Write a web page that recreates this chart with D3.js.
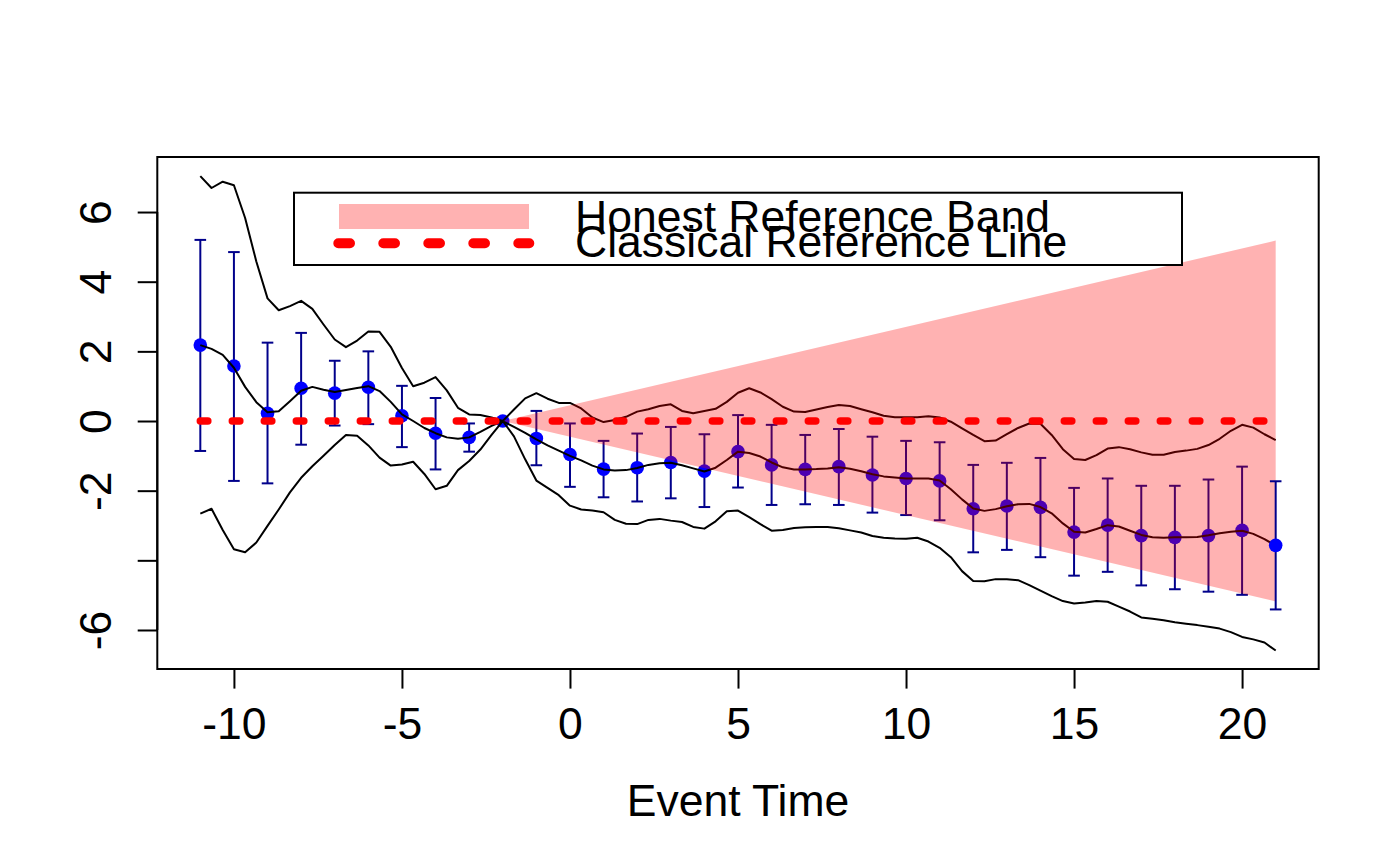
<!DOCTYPE html>
<html><head><meta charset="utf-8">
<script src="https://cdn.jsdelivr.net/npm/d3@7"></script>
<style>
html,body{margin:0;padding:0;background:#fff;}
svg{display:block;}
text{font-family:"Liberation Sans",Arial,Helvetica,sans-serif;}
</style>
</head><body>
<svg id="chart" width="1400" height="866"></svg>
<script>
// ---------------- data ----------------
const eventTime = [-11,-10,-9,-8,-7,-6,-5,-4,-3,-2,-1,0,1,2,3,4,5,6,7,8,9,10,11,12,13,14,15,16,17,18,19,20,21];
const estimate = [2.18,1.58,0.22,0.94,0.80,0.97,0.15,-0.35,-0.47,0,-0.50,-0.96,-1.38,-1.34,-1.19,-1.44,-0.88,-1.26,-1.39,-1.31,-1.55,-1.65,-1.72,-2.52,-2.44,-2.48,-3.19,-2.99,-3.29,-3.34,-3.29,-3.14,-3.57];
const ciUpper = [5.20,4.85,2.25,2.53,1.73,2.00,1.01,0.66,-0.07,0,0.29,-0.07,-0.57,-0.36,-0.17,-0.38,0.17,-0.11,-0.40,-0.23,-0.45,-0.57,-0.61,-1.26,-1.20,-1.06,-1.92,-1.65,-1.86,-1.86,-1.68,-1.31,-1.73];
const ciLower = [-0.86,-1.72,-1.79,-0.68,-0.13,-0.09,-0.75,-1.39,-0.88,0,-1.27,-1.89,-2.19,-2.31,-2.22,-2.47,-1.91,-2.41,-2.39,-2.41,-2.63,-2.70,-2.85,-3.77,-3.70,-3.91,-4.44,-4.33,-4.72,-4.83,-4.90,-4.99,-5.41];

// fine time grid (every 1/3 of a period) for the three curves
const lineTime = d3.range(97).map(i => -11 + i / 3);
const upperCurve = [7.03,6.69,6.87,6.77,5.83,4.58,3.52,3.18,3.30,3.45,3.22,2.77,2.34,2.12,2.31,2.57,2.56,2.13,1.52,1.00,1.10,1.26,0.88,0.38,0.19,0.17,0.10,0,
  0.33,0.65,0.80,0.64,0.52,0.52,0.36,0.10,
  -0.03,0.03,0.12,0.27,0.34,0.43,0.48,0.29,0.22,0.29,0.35,0.55,0.81,0.94,0.82,0.63,0.41,0.27,0.26,0.33,0.40,0.46,0.43,0.34,0.25,0.15,0.11,0.11,0.11,0.14,
  0.10,-0.02,-0.21,-0.40,-0.58,-0.56,-0.38,-0.20,-0.07,-0.08,-0.40,-0.81,-1.09,-1.12,-0.98,-0.79,-0.75,-0.81,-0.90,-0.97,-0.97,-0.89,-0.85,-0.80,-0.69,-0.51,-0.28,-0.11,-0.19,-0.38,-0.55];
const middleCurve = [2.18,2.07,1.90,1.53,0.98,0.54,0.25,0.28,0.57,0.87,0.98,0.90,0.83,0.89,0.95,1.00,0.86,0.55,0.19,0.00,-0.20,-0.35,-0.47,-0.51,-0.47,-0.31,-0.14,0,
  -0.17,-0.34,-0.53,-0.70,-0.85,-1.00,-1.13,-1.28,
  -1.39,-1.42,-1.41,-1.35,-1.26,-1.21,-1.20,-1.27,-1.36,-1.45,-1.34,-1.12,-0.88,-0.92,-1.02,-1.19,-1.33,-1.39,-1.39,-1.38,-1.36,-1.33,-1.37,-1.44,-1.53,-1.59,-1.62,-1.65,-1.65,-1.65,
  -1.71,-1.96,-2.25,-2.51,-2.58,-2.53,-2.45,-2.39,-2.38,-2.47,-2.65,-2.94,-3.18,-3.20,-3.10,-2.99,-3.03,-3.15,-3.27,-3.34,-3.35,-3.34,-3.34,-3.33,-3.28,-3.22,-3.18,-3.15,-3.24,-3.39,-3.58];
const lowerCurve = [-2.66,-2.52,-3.13,-3.68,-3.77,-3.49,-3.01,-2.54,-2.05,-1.63,-1.30,-1.00,-0.69,-0.40,-0.42,-0.70,-1.05,-1.28,-1.25,-1.17,-1.52,-1.96,-1.86,-1.41,-1.15,-0.82,-0.40,0,
  -0.44,-1.10,-1.71,-1.92,-2.13,-2.43,-2.54,-2.57,
  -2.62,-2.84,-2.95,-2.96,-2.84,-2.81,-2.86,-2.90,-3.04,-3.09,-2.88,-2.59,-2.57,-2.76,-2.96,-3.15,-3.13,-3.07,-3.05,-3.04,-3.04,-3.08,-3.14,-3.20,-3.30,-3.35,-3.37,-3.38,-3.35,-3.46,
  -3.64,-3.91,-4.31,-4.59,-4.60,-4.54,-4.54,-4.57,-4.71,-4.87,-5.03,-5.17,-5.24,-5.21,-5.17,-5.19,-5.33,-5.47,-5.64,-5.68,-5.72,-5.78,-5.82,-5.86,-5.91,-5.96,-6.06,-6.20,-6.27,-6.36,-6.59];

const bandTime = [-2, 21];
const bandUpper = [0, 5.18];
const bandLower = [0, -5.18];
const refTime = [-11, 21];
const refValue = [0, 0];

const xTicks = [-10,-5,0,5,10,15,20];
const xTickLabels = ["-10","-5","0","5","10","15","20"];
const yTicks = [-6,-4,-2,0,2,4,6];
const yTickLabels = ["-6","","-2","0","2","4","6"];
const legendLabels = ["Honest Reference Band","Classical Reference Line"];
const xTitle = "Event Time";

// ---------------- layout ----------------
const plot = {left:157.3, right:1318.7, top:157, bottom:669};
const FS = 44.5;
const x = d3.scaleLinear().domain([-12.28, 22.28]).range([plot.left, plot.right]);
const y = d3.scaleLinear().domain([-7.12, 7.58]).range([plot.bottom, plot.top]);

const svg = d3.select("#chart");
svg.append("rect").attr("width",1400).attr("height",866).attr("fill","#fff");

const pts = eventTime.map((t,i)=>({t, est:estimate[i], hi:ciUpper[i], lo:ciLower[i], i}));
const lastIdx = pts.length - 1;

function drawBars(g, data){
  const bars = data.filter(d => d.hi !== d.lo);
  const cap = 5.8;
  const gb = g.append("g").attr("stroke","#00008B").attr("stroke-width",2).attr("fill","none");
  gb.selectAll("line.v").data(bars).join("line").attr("class","v")
    .attr("x1",d=>x(d.t)).attr("x2",d=>x(d.t)).attr("y1",d=>y(d.hi)).attr("y2",d=>y(d.lo));
  gb.selectAll("line.t").data(bars).join("line").attr("class","t")
    .attr("x1",d=>x(d.t)-cap).attr("x2",d=>x(d.t)+cap).attr("y1",d=>y(d.hi)).attr("y2",d=>y(d.hi));
  gb.selectAll("line.b").data(bars).join("line").attr("class","b")
    .attr("x1",d=>x(d.t)-cap).attr("x2",d=>x(d.t)+cap).attr("y1",d=>y(d.lo)).attr("y2",d=>y(d.lo));
  g.append("g").selectAll("circle").data(data).join("circle")
    .attr("cx",d=>x(d.t)).attr("cy",d=>y(d.est)).attr("r",6.8).attr("fill","#0000FF");
}

// bars and points
drawBars(svg.append("g"), pts.filter(d => d.i !== lastIdx));

// curves
const line = d3.line().x(d=>x(d[0])).y(d=>y(d[1]));
[upperCurve, middleCurve, lowerCurve].forEach(c => {
  svg.append("path").datum(lineTime.map((t,i)=>[t,c[i]]))
    .attr("d", line).attr("fill","none").attr("stroke","#000").attr("stroke-width",2)
    .attr("stroke-linejoin","round");
});

// honest band
const area = d3.area().x(d=>x(d.t)).y0(d=>y(d.lo)).y1(d=>y(d.hi));
svg.append("path").datum(bandTime.map((t,i)=>({t, hi:bandUpper[i], lo:bandLower[i]})))
  .attr("d", area).attr("fill","rgba(255,0,0,0.3)").attr("stroke","none");

// last point on top
drawBars(svg.append("g"), pts.filter(d => d.i === lastIdx));

// classical reference line
svg.append("path").datum(refTime.map((t,i)=>[t, refValue[i]]))
  .attr("d", line).attr("fill","none").attr("stroke","#FF0000").attr("stroke-width",7.5)
  .attr("stroke-linecap","round").attr("stroke-dasharray","7.5 24.5");

// plot box
svg.append("rect").attr("x",plot.left).attr("y",plot.top)
  .attr("width",plot.right-plot.left).attr("height",plot.bottom-plot.top)
  .attr("fill","none").attr("stroke","#000").attr("stroke-width",2);

// x axis
const xAxis = d3.axisBottom(x).tickValues(xTicks).tickSize(19.6).tickSizeOuter(0)
  .tickFormat((d,i)=>xTickLabels[i]);
const gx = svg.append("g").attr("transform",`translate(0,${plot.bottom})`).call(xAxis);
gx.select(".domain").attr("stroke-width",2).attr("d",`M${x(xTicks[0])},0H${x(xTicks[xTicks.length-1])}`);
gx.selectAll(".tick line").attr("stroke","#000").attr("stroke-width",2);
gx.selectAll(".tick text").attr("y",70).attr("dy",null).attr("fill","#000")
  .style("font-size",FS+"px").style("font-family",'"Liberation Sans",Arial,sans-serif');

// y axis
const yAxis = d3.axisLeft(y).tickValues(yTicks).tickSize(19.6).tickSizeOuter(0)
  .tickFormat((d,i)=>yTickLabels[i]);
const gy = svg.append("g").attr("transform",`translate(${plot.left},0)`).call(yAxis);
gy.select(".domain").attr("stroke-width",2).attr("d",`M0,${y(yTicks[0])}V${y(yTicks[yTicks.length-1])}`);
gy.selectAll(".tick line").attr("stroke","#000").attr("stroke-width",2);
gy.selectAll(".tick text").attr("x",null).attr("dy",null).attr("y",null)
  .attr("text-anchor","middle").attr("transform","translate(-46.6,0) rotate(-90)")
  .attr("fill","#000").style("font-size",FS+"px").style("font-family",'"Liberation Sans",Arial,sans-serif');
svg.selectAll(".domain").attr("stroke","#000");

// x title
svg.append("text").attr("x",(plot.left+plot.right)/2).attr("y",816)
  .attr("text-anchor","middle").style("font-size",FS+"px").text(xTitle);

// legend
const lg = svg.append("g");
lg.append("rect").attr("x",294).attr("y",192.7).attr("width",1182-294).attr("height",265-192.7)
  .attr("fill","#fff").attr("stroke","#000").attr("stroke-width",2);
lg.append("rect").attr("x",339).attr("y",204).attr("width",190).attr("height",25)
  .attr("fill","rgba(255,0,0,0.3)");
lg.append("line").attr("x1",338.3).attr("x2",529.3).attr("y1",243.3).attr("y2",243.3)
  .attr("stroke","#FF0000").attr("stroke-width",10).attr("stroke-linecap","round")
  .attr("stroke-dasharray","11.7 33.3");
const legendBaselines = [232, 257];
lg.selectAll("text").data(legendLabels).join("text")
  .attr("x",575).attr("y",(d,i)=>legendBaselines[i])
  .style("font-size",FS+"px").text(d=>d);
</script>
</body></html>
